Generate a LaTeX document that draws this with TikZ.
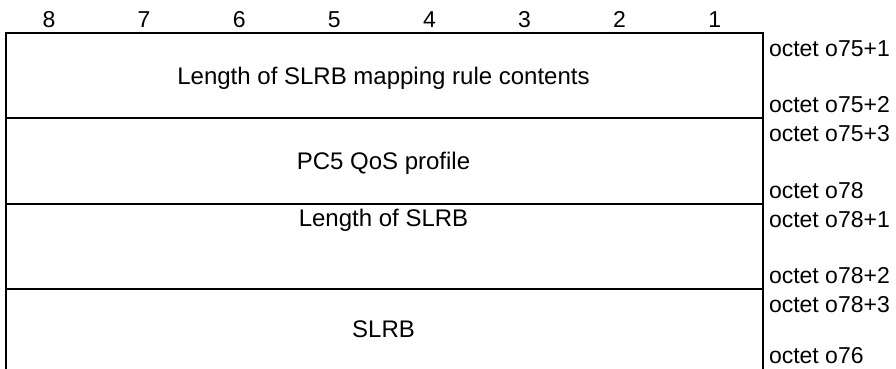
\documentclass[tikz,border=0pt]{standalone}
\usepackage{fontspec}
\setmainfont{Liberation Sans}

\begin{document}
\begin{tikzpicture}[ x=0.5pt, y=-0.5pt, line width=1pt,
        bit/.style={ anchor=base, inner sep=0pt,
          font=\fontsize{11.5}{14}\selectfont },
        field/.style={ anchor=base, inner sep=0pt,
          font=\fontsize{12}{14}\selectfont },
        octet/.style={ anchor=base west, inner sep=0pt,
          font=\fontsize{11.5}{14}\selectfont } ]
        \useasboundingbox (0,0) rectangle (896,369);

        \foreach \b in {1,...,8}
        \node[bit] (bit\b) at ({49+95.1*(8-\b)},28) {\b};

        \draw (6,369) -- (6,33) -- (763,33) -- (763,369);
        \foreach \y in {118,204,289} \draw (6,\y) -- (763,\y);

        \node[field] (len) at (383.5,85) {Length of SLRB mapping rule contents};
        \node[field] (qos) at (383.5,170) {PC5 QoS profile};
        \node[field] (lenslrb) at (383.5,227) {Length of SLRB};
        \node[field] (slrb) at (383.5,338) {SLRB};

        \foreach \y/\l [count=\i] in {57/o75+1,113/o75+2,142/o75+3,199/o78,
          228/o78+1,284/o78+2,313/o78+3,364/o76}
        \node[octet] (oct\i) at (768,\y) {octet \l};
      \end{tikzpicture}
\end{document}
